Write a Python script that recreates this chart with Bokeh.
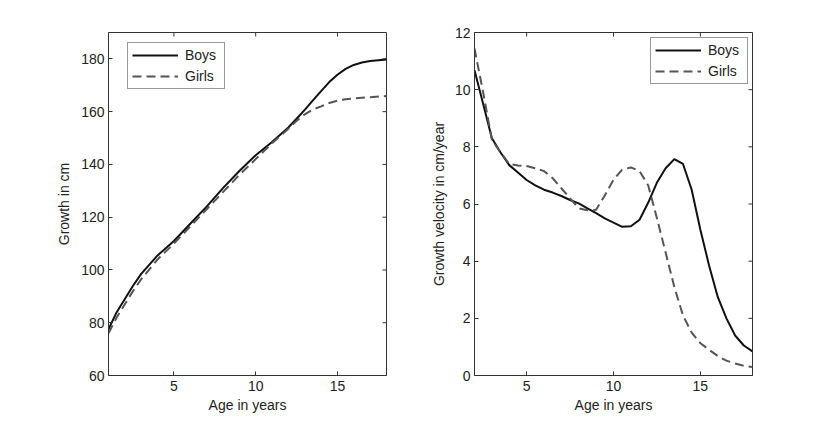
import math
from bokeh.plotting import figure
from bokeh.models import Range1d, FixedTicker, Legend, LegendItem
from bokeh.layouts import row
from bokeh.embed import file_html
from bokeh.resources import INLINE

# ---- data: height curves (cm) ----
ages_h = [1, 1.5, 2, 2.5, 3, 4, 5, 6, 7, 8, 9, 10, 11, 12, 12.5, 13, 13.5,
          14, 14.5, 15, 15.5, 16, 16.5, 17, 18]
boys_h = [77.5, 84, 89, 94, 98.5, 105.5, 111, 117.5, 124, 131, 137.5, 143.5,
          148.5, 154, 157.3, 160.7, 164.3, 167.8, 171.2, 174, 176.2, 177.7,
          178.6, 179.2, 179.8]
girls_h = [76, 82, 87, 92, 96.5, 104, 110, 116.5, 123, 129.5, 136, 142, 148,
           153.5, 156.5, 159, 160.8, 162, 163.3, 164.2, 164.7, 165, 165.3,
           165.5, 165.9]

# ---- data: growth velocity (cm/year) ----
ages_v = [2, 2.5, 3, 3.5, 4, 4.5, 5, 5.5, 6, 6.5, 7, 7.5, 8, 8.5, 9, 9.5, 10,
          10.5, 11, 11.5, 12, 12.5, 13, 13.5, 14, 14.5, 15, 15.5, 16, 16.5,
          17, 17.5, 18]
boys_v = [10.68, 9.5, 8.3, 7.8, 7.36, 7.1, 6.84, 6.65, 6.5, 6.4, 6.28, 6.14,
          6.02, 5.85, 5.68, 5.5, 5.35, 5.2, 5.22, 5.45, 6.05, 6.75, 7.25, 7.57,
          7.4, 6.5, 5.1, 3.85, 2.75, 2.0, 1.4, 1.05, 0.84]
girls_v = [11.44, 9.9, 8.25, 7.8, 7.4, 7.35, 7.33, 7.25, 7.15, 6.9, 6.55, 6.2,
           5.85, 5.78, 5.8, 6.3, 6.85, 7.2, 7.28, 7.15, 6.65, 5.5, 4.3, 3.1,
           2.1, 1.5, 1.13, 0.9, 0.68, 0.52, 0.42, 0.34, 0.3]

x_ticks = [5, 10, 15]
h_ticks = [60, 80, 100, 120, 140, 160, 180]
v_ticks = [0, 2, 4, 6, 8, 10, 12]

FONT = "Liberation Sans"
FS = "14px"
AX = "#333333"
TXT = "#222222"


def style_axis(ax, ticks, label_standoff):
    ax.ticker = FixedTicker(ticks=ticks)
    ax.major_tick_in = 4
    ax.major_tick_out = 0
    ax.minor_tick_line_color = None
    ax.axis_line_color = AX
    ax.major_tick_line_color = AX
    ax.major_label_text_font = FONT
    ax.major_label_text_font_size = FS
    ax.major_label_text_color = TXT
    ax.major_label_standoff = label_standoff
    ax.axis_label_text_font = FONT
    ax.axis_label_text_font_style = "normal"
    ax.axis_label_text_font_size = FS
    ax.axis_label_text_color = TXT


def make_panel(xs, ys_b, ys_g, xr, yr, yticks, ylabel, border_left,
               border_right, legend_loc, ylabel_standoff):
    p = figure(frame_width=278, frame_height=343, output_backend="svg",
               toolbar_location=None, x_range=Range1d(*xr),
               y_range=Range1d(*yr), min_border_left=border_left,
               min_border_right=border_right, min_border_top=32,
               min_border_bottom=38)
    p.grid.visible = False
    p.outline_line_color = AX
    p.background_fill_color = "white"
    p.border_fill_color = "white"

    style_axis(p.xaxis[0], x_ticks, 5)
    style_axis(p.yaxis[0], yticks, 4)
    p.xaxis[0].axis_label = "Age in years"
    p.xaxis[0].axis_label_standoff = 3
    p.yaxis[0].axis_label = ylabel
    p.yaxis[0].axis_label_standoff = ylabel_standoff

    # mirrored inward ticks on the top and right edges of the box
    p.ray(x=x_ticks, y=[yr[1]] * len(x_ticks), length=4,
          length_units="screen", angle=-math.pi / 2, line_color=AX,
          line_width=1)
    p.ray(x=[xr[1]] * len(yticks), y=yticks, length=4,
          length_units="screen", angle=math.pi, line_color=AX, line_width=1)

    rb = p.line(xs, ys_b, line_color="#111111", line_width=2)
    rg = p.line(xs, ys_g, line_color="#555555", line_width=2,
                line_dash="9 5")

    leg = Legend(items=[LegendItem(label="Boys", renderers=[rb]),
                        LegendItem(label="Girls", renderers=[rg])],
                 location=legend_loc)
    leg.margin = 0
    leg.padding = 4
    leg.spacing = 5
    leg.glyph_width = 46
    leg.glyph_height = 16
    leg.label_height = 16
    leg.label_width = 35
    leg.label_standoff = 7
    leg.label_text_font = FONT
    leg.label_text_font_size = FS
    leg.label_text_color = TXT
    leg.border_line_color = AX
    leg.border_line_width = 1
    leg.background_fill_color = "white"
    leg.background_fill_alpha = 1
    p.add_layout(leg)
    return p


p1 = make_panel(ages_h, boys_h, girls_h, (1, 18), (60, 190), h_ticks,
                "Growth in cm", 108, 10, (19, 286), 6)
p2 = make_panel(ages_v, boys_v, girls_v, (2, 18), (0, 12), v_ticks,
                "Growth velocity in cm/year", 78, 20, (176, 291), 5)

layout = row(p1, p2)
open("out.html", "w").write(file_html(layout, INLINE))
